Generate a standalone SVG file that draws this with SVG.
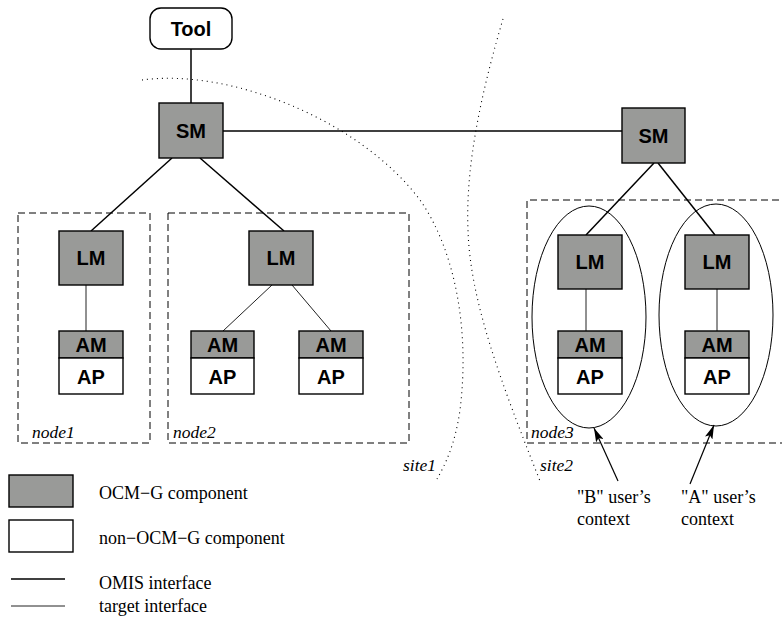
<svg xmlns="http://www.w3.org/2000/svg" width="782" height="622" viewBox="0 0 782 622">
<defs>
<style>
.ocm{fill:#999a98;stroke:#000;stroke-width:1.4}
.non{fill:#fff;stroke:#000;stroke-width:1.4}
.lbl{font-family:"Liberation Sans",Arial,sans-serif;font-weight:bold;font-size:20px;text-anchor:middle;fill:#000}
.omis{stroke:#000;stroke-width:1.5;fill:none}
.tgt{stroke:#222;stroke-width:1;fill:none}
.dash{fill:none;stroke:#000;stroke-width:1;stroke-dasharray:7 4}
.dot{fill:none;stroke:#000;stroke-width:1.1;stroke-dasharray:1 4}
.it{font-family:"Liberation Serif","Times New Roman",serif;font-style:italic;font-size:17.5px;fill:#000}
.txt{font-family:"Liberation Serif","Times New Roman",serif;font-size:18px;fill:#000}
.ell{fill:none;stroke:#000;stroke-width:1}
</style>
<marker id="ah" viewBox="0 0 14 8" refX="14" refY="4" markerWidth="14" markerHeight="8" markerUnits="userSpaceOnUse" orient="auto">
<path d="M0,0 L14,4 L0,8 L3,4 Z" fill="#000"/>
</marker>
</defs>
<rect width="782" height="622" fill="#fff"/>

<g id="boundaries">
<rect class="dash" x="18" y="213" width="132" height="230"/>
<rect class="dash" x="168" y="213" width="241" height="230"/>
<path class="dash" d="M790,200 L527,200 L527,443 L790,443"/>
<path class="dot" d="M142,80 C230,68 360,120 420,200 C455,250 470,330 460,410 C455,445 445,465 437,479"/>
<path class="dot" d="M503,19 C485,80 465,160 468,230 C470,300 500,380 540,481"/>
<ellipse class="ell" cx="589" cy="317" rx="57" ry="111"/>
<ellipse class="ell" cx="716" cy="315" rx="57" ry="111"/>
</g>

<g id="connectors">
<line class="omis" x1="191" y1="49" x2="191" y2="103"/>
<line class="omis" x1="223" y1="131" x2="622" y2="131"/>
<line class="omis" x1="172" y1="158" x2="91" y2="231"/>
<line class="omis" x1="200" y1="158" x2="284" y2="231"/>
<line class="omis" x1="654" y1="163" x2="586" y2="235"/>
<line class="omis" x1="658" y1="163" x2="715" y2="235"/>
<line class="tgt" x1="86" y1="285" x2="86" y2="331"/>
<line class="tgt" x1="272" y1="285" x2="223" y2="331"/>
<line class="tgt" x1="292" y1="285" x2="331" y2="331"/>
<line class="tgt" x1="586" y1="289" x2="586" y2="331"/>
<line class="tgt" x1="717" y1="289" x2="717" y2="331"/>
<line stroke="#000" stroke-width="1.2" x1="618" y1="481" x2="594" y2="428" marker-end="url(#ah)"/>
<line stroke="#000" stroke-width="1.2" x1="690" y1="484" x2="714" y2="425" marker-end="url(#ah)"/>
</g>

<g id="tool">
<rect x="150" y="8" width="82" height="41" rx="11" fill="#fff" stroke="#000" stroke-width="1.4"/>
<text class="lbl" x="191" y="36">Tool</text>
</g>
<g id="sm1">
<rect class="ocm" x="159" y="103" width="64" height="55"/>
<text class="lbl" x="191" y="138">SM</text>
</g>
<g id="sm2">
<rect class="ocm" x="622" y="108" width="63" height="55"/>
<text class="lbl" x="653.5" y="143">SM</text>
</g>

<g id="lm1">
<rect class="ocm" x="59" y="231" width="64" height="54"/>
<text class="lbl" x="91" y="265">LM</text>
</g>
<g id="lm2">
<rect class="ocm" x="249" y="231" width="64" height="54"/>
<text class="lbl" x="281" y="265">LM</text>
</g>
<g id="lm3a">
<rect class="ocm" x="558" y="235" width="64" height="54"/>
<text class="lbl" x="590" y="269">LM</text>
</g>
<g id="lm3b">
<rect class="ocm" x="685" y="235" width="64" height="54"/>
<text class="lbl" x="717" y="269">LM</text>
</g>

<g id="amap1">
<rect class="ocm" x="59" y="331" width="64" height="27"/>
<rect class="non" x="59" y="358" width="64" height="36"/>
<text class="lbl" x="91" y="352">AM</text>
<text class="lbl" x="91" y="384">AP</text>
</g>
<g id="amap2a">
<rect class="ocm" x="191" y="331" width="63" height="27"/>
<rect class="non" x="191" y="358" width="63" height="36"/>
<text class="lbl" x="222.5" y="352">AM</text>
<text class="lbl" x="222.5" y="384">AP</text>
</g>
<g id="amap2b">
<rect class="ocm" x="299" y="331" width="64" height="27"/>
<rect class="non" x="299" y="358" width="64" height="36"/>
<text class="lbl" x="331" y="352">AM</text>
<text class="lbl" x="331" y="384">AP</text>
</g>
<g id="amap3a">
<rect class="ocm" x="558" y="331" width="64" height="27"/>
<rect class="non" x="558" y="358" width="64" height="36"/>
<text class="lbl" x="590" y="352">AM</text>
<text class="lbl" x="590" y="384">AP</text>
</g>
<g id="amap3b">
<rect class="ocm" x="685" y="331" width="64" height="27"/>
<rect class="non" x="685" y="358" width="64" height="36"/>
<text class="lbl" x="717" y="352">AM</text>
<text class="lbl" x="717" y="384">AP</text>
</g>

<g id="labels">
<text class="it" x="32" y="438">node1</text>
<text class="it" x="173" y="438">node2</text>
<text class="it" x="531" y="438">node3</text>
<text class="it" x="403" y="471">site1</text>
<text class="it" x="540" y="471">site2</text>
<text class="txt" x="577" y="503">"B" user’s</text>
<text class="txt" x="577" y="525">context</text>
<text class="txt" x="681" y="503">"A" user’s</text>
<text class="txt" x="681" y="525">context</text>
</g>

<g id="legend">
<rect class="ocm" x="9" y="475" width="64" height="32"/>
<rect class="non" x="9" y="520" width="64" height="32"/>
<line class="omis" x1="11" y1="579" x2="65" y2="579"/>
<line class="tgt" x1="11" y1="606" x2="65" y2="606"/>
<text class="txt" x="99" y="499">OCM−G component</text>
<text class="txt" x="99" y="544">non−OCM−G component</text>
<text class="txt" x="99" y="589">OMIS interface</text>
<text class="txt" x="99" y="612">target interface</text>
</g>
</svg>
